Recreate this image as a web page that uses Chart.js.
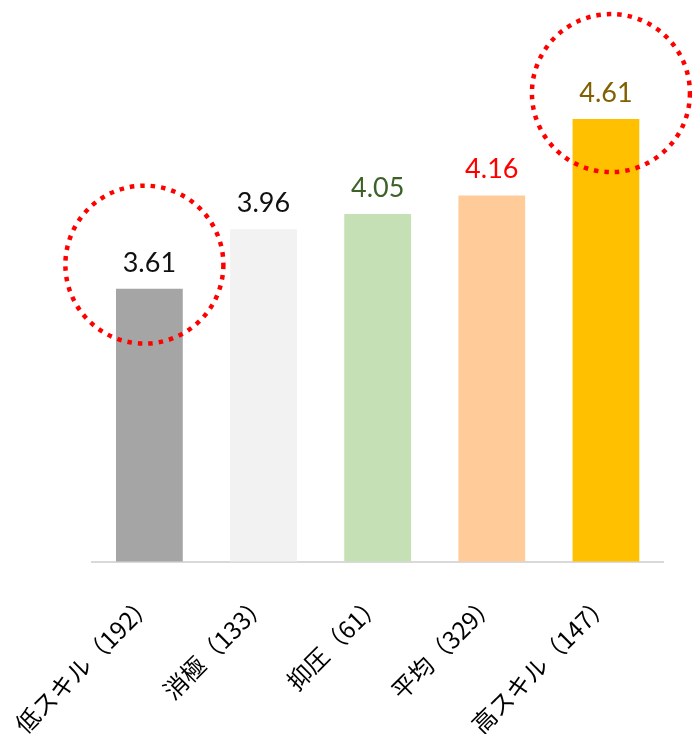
<!DOCTYPE html>
<html><head><meta charset="utf-8">
<script src="https://cdn.jsdelivr.net/npm/chart.js@4/dist/chart.umd.min.js"></script>
<style>html,body{margin:0;padding:0;background:#fff}#wrap{width:692px;height:734px;position:relative}</style>
</head><body><div id="wrap"><canvas id="c"></canvas></div>
<script>
const categories = ['低スキル（192）', '消極（133）', '抑圧（61）', '平均（329）', '高スキル（147）'];
const values = [3.61, 3.96, 4.05, 4.16, 4.61];
const barColors = ['#a5a5a5', '#f2f2f2', '#c5e0b4', '#ffcc99', '#ffc000'];
const labelColors = ['#111111', '#111111', '#3d6229', '#ff0000', '#806000'];
const circledBars = [0, 4];
const circleOffsets = [[-5, -24], [5, -26]];

const valueLabels = {
  id: 'valueLabels',
  afterDatasetsDraw(chart) {
    const ctx = chart.ctx;
    const meta = chart.getDatasetMeta(0);
    ctx.save();
    ctx.font = '400 27px Lato, "Noto Sans", sans-serif';
    ctx.textAlign = 'center';
    ctx.textBaseline = 'alphabetic';
    meta.data.forEach((bar, i) => {
      ctx.fillStyle = labelColors[i];
      ctx.fillText(values[i].toFixed(2), bar.x, bar.y - 17);
    });
    ctx.strokeStyle = '#ff0000';
    ctx.lineWidth = 4.5;
    ctx.setLineDash([4.5, 6]);
    circledBars.forEach((idx, k) => {
      const bar = meta.data[idx];
      ctx.beginPath();
      ctx.arc(bar.x + circleOffsets[k][0], bar.y + circleOffsets[k][1], 79, 0, Math.PI * 2);
      ctx.stroke();
    });
    ctx.restore();
  }
};

new Chart(document.getElementById('c'), {
  type: 'bar',
  data: {
    labels: categories,
    datasets: [{ data: values, backgroundColor: barColors, borderWidth: 0,
      barPercentage: 0.585, categoryPercentage: 1.0 }]
  },
  options: {
    responsive: true, maintainAspectRatio: false, devicePixelRatio: 1, animation: false,
    layout: { padding: { top: 53, right: 29, left: 3, bottom: -24 } },
    plugins: { legend: { display: false }, tooltip: { enabled: false } },
    scales: {
      y: { display: false, min: 2, max: 5 },
      x: {
        grid: { display: false },
        border: { display: true, color: '#d9d9d9', width: 2 },
        ticks: { color: '#000', maxRotation: 45, minRotation: 45, padding: 19,
          font: { family: '"Noto Sans CJK JP", sans-serif', size: 24 } }
      }
    }
  },
  plugins: [valueLabels]
});
</script></body></html>
